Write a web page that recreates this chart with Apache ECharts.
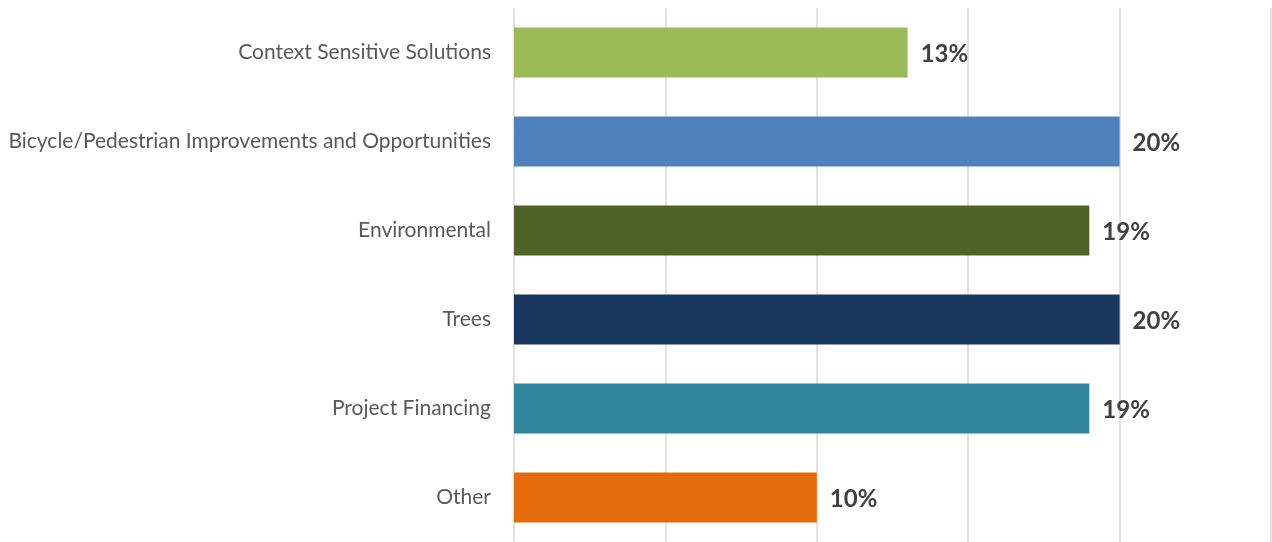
<!DOCTYPE html>
<html>
<head>
<meta charset="utf-8">
<script src="https://cdn.jsdelivr.net/npm/echarts@6/dist/echarts.min.js"></script>
<style>
  html, body { margin: 0; padding: 0; background: #fff; }
  #chart { width: 1272px; height: 542px; }
</style>
</head>
<body>
<div id="chart"></div>
<script>
// Share of responses by topic (percent)
const categories = [
  'Context Sensitive Solutions',
  'Bicycle/Pedestrian Improvements and Opportunities',
  'Environmental',
  'Trees',
  'Project Financing',
  'Other'
];
const values = [13, 20, 19, 20, 19, 10];
const barColors = ['#9BBB59', '#4F81BD', '#4F6228', '#17375E', '#31859C', '#E46C0A'];
const axisMax = 25;
const axisStep = 5;

const chart = echarts.init(document.getElementById('chart'), null, { renderer: 'canvas' });

chart.setOption({
  animation: false,
  grid: { left: 514, right: 1, top: 8, height: 537 },
  xAxis: {
    type: 'value',
    min: 0,
    max: axisMax,
    interval: axisStep,
    axisLabel: { show: false },
    axisLine: { show: false },
    axisTick: { show: false },
    splitLine: { show: true, lineStyle: { color: '#d9d9d9', width: 1.5 } }
  },
  yAxis: {
    type: 'category',
    inverse: true,
    data: categories,
    axisLine: { show: false },
    axisTick: { show: false },
    axisLabel: {
      margin: 23,
      color: '#595959',
      fontFamily: 'Lato',
      fontSize: 21
    }
  },
  series: [{
    type: 'bar',
    barCategoryGap: '44%',
    data: values.map((v, i) => ({ value: v, itemStyle: { color: barColors[i] } })),
    label: {
      show: true,
      position: 'right',
      distance: 13,
      offset: [0, 2],
      formatter: p => p.value + '%',
      color: '#404040',
      fontFamily: 'Lato',
      fontWeight: 'bold',
      fontSize: 24
    }
  }]
});
</script>
</body>
</html>
